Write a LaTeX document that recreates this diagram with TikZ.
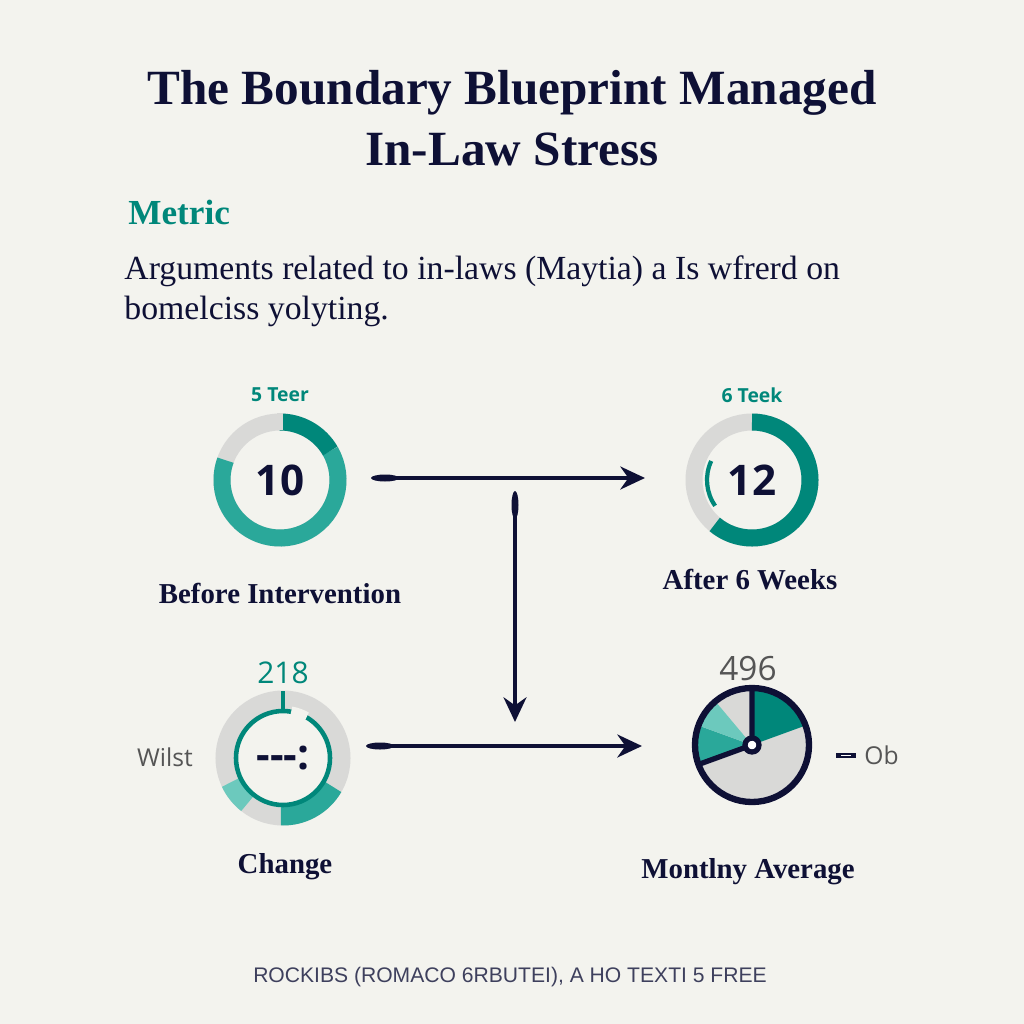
\documentclass[tikz,border=0pt]{standalone}
\usetikzlibrary{arrows.meta}
\usepackage{fontspec}
\setmainfont{Liberation Serif}
\setsansfont{Open Sans}
\newfontfamily\footf{Liberation Sans}
\begin{document}
\definecolor{bg}{HTML}{F3F3EE}
\definecolor{navy}{HTML}{0E1035}
\definecolor{dteal}{HTML}{00877A}
\definecolor{mteal}{HTML}{2AA89A}
\definecolor{lteal}{HTML}{6CC9BD}
\definecolor{lgray}{HTML}{D9D9D7}
\definecolor{tgray}{HTML}{555555}
\begin{tikzpicture}[x=0.01cm,y=-0.01cm,
  arr/.style={navy,line width=1.3pt,-{Stealth[length=7pt,width=6.5pt]}},
  lab/.style={font=\bfseries\fontsize{8.2}{10}\selectfont,text=navy},
  seg/.style={line width=0.17cm}]
\fill[bg] (0,0) rectangle (1024,1024);
\useasboundingbox (0,0) rectangle (1024,1024);
\node[font=\bfseries\fontsize{14}{17.5}\selectfont,text=navy,align=center] (title) at (512,118) {The Boundary Blueprint Managed\\In-Law Stress};
\node[anchor=west,font=\bfseries\fontsize{10}{12}\selectfont,text=dteal] (metric) at (116,212) {Metric};
\node[anchor=north west,font=\fontsize{9.6}{11.4}\selectfont,text=navy,align=left] (para) at (112,243) {Arguments related to in-laws (Maytia) a Is wfrerd on\\bomelciss yolyting.};
% donut 1
\begin{scope}[shift={(280,480)},yscale=-1]
\draw[lgray,seg] (0,0) circle (58);
\draw[mteal,seg] (30:58) arc (30:-200:58);
\draw[dteal,seg] (90:58) arc (90:30:58);
\draw[lgray,line width=1.5pt] (0,50) -- (0,67);
\end{scope}
\node[font=\sffamily\bfseries\fontsize{12}{14}\selectfont,text=navy] (d1) at (280,480) {10};
\node[font=\sffamily\bfseries\fontsize{5.5}{7}\selectfont,text=dteal] (t1) at (280,395) {5 Teer};
\node[lab] (l1) at (280,593) {Before Intervention};
% donut 2
\begin{scope}[shift={(752,480)},yscale=-1]
\draw[lgray,seg] (0,0) circle (58);
\draw[dteal,seg] (90:58) arc (90:-130:58);
\draw[dteal,line width=1.2pt] (155:45) arc (155:215:45);
\end{scope}
\node[font=\sffamily\bfseries\fontsize{12}{14}\selectfont,text=navy] (d2) at (752,480) {12};
\node[font=\sffamily\bfseries\fontsize{5.5}{7}\selectfont,text=dteal] (t2) at (752,395) {6 Teek};
\node[lab] (l2) at (750,580) {After 6 Weeks};
% donut 3
\begin{scope}[shift={(283,758)},yscale=-1]
\draw[lgray,line width=0.19cm] (0,0) circle (58);
\draw[mteal,line width=0.19cm] (-92:58) arc (-92:-30:58);
\draw[lteal,line width=0.19cm] (205:58) arc (205:232:58);
\draw[dteal,line width=1.3pt] (0,0) circle (47);
\draw[bg,line width=3pt] (60:47) arc (60:80:47);
\draw[dteal,line width=1.3pt] (0,47) -- (0,67);
\end{scope}
\node[font=\sffamily\bfseries\fontsize{12}{14}\selectfont,text=navy] (d3) at (283,758) {-{}-{}-:};
\node[font=\sffamily\fontsize{8.5}{10}\selectfont,text=dteal] (t3) at (283,673) {218};
\node[font=\sffamily\fontsize{7}{9}\selectfont,text=tgray] (w) at (165,757) {Wilst};
\node[lab] (l3) at (285,867) {Change};
% pie
\begin{scope}[shift={(752,745)},yscale=-1]
\fill[lgray] (0,0) circle (57);
\fill[dteal] (0,0) -- (90:57) arc (90:20:57) -- cycle;
\fill[mteal] (0,0) -- (200:57) arc (200:160:57) -- cycle;
\fill[lteal] (0,0) -- (160:57) arc (160:130:57) -- cycle;
\draw[navy,line width=1.5pt] (0,0) -- (90:57) (0,0) -- (200:57);
\draw[navy,line width=1.8pt] (0,0) circle (57);
\draw[navy,line width=1.5pt,fill=white] (0,0) circle (7);
\end{scope}
\node[font=\sffamily\fontsize{9.5}{11}\selectfont,text=tgray] (t4) at (748,669) {496};
\node[font=\sffamily\fontsize{7}{9}\selectfont,text=tgray,anchor=west] (ob) at (852,755) {Ob};
\fill[navy] (836,753) rectangle (856,758);
\fill[white] (841,755) rectangle (851,756.3);
\node[lab] (l4) at (748,872) {Montlny Average};
% arrows
\coordinate (a1) at (385,478); \coordinate (b1) at (645,478);
\coordinate (a2) at (515,505); \coordinate (b2) at (515,722);
\coordinate (a3) at (380,746); \coordinate (b3) at (642,746);
\draw[arr] (a1) -- (b1);
\draw[arr] (a2) -- (b2);
\draw[arr] (a3) -- (b3);
\fill[navy] (a1) ellipse (14 and 3.5);
\fill[navy] (a2) ellipse (3.5 and 14);
\fill[navy] (a3) ellipse (14 and 3.5);
\node[font=\footf\fontsize{6}{8}\selectfont,text=navy!80] (foot) at (510,977) {ROCKIBS (ROMACO 6RBUTEI), A HO TEXTI 5 FREE};
\end{tikzpicture}
\end{document}
